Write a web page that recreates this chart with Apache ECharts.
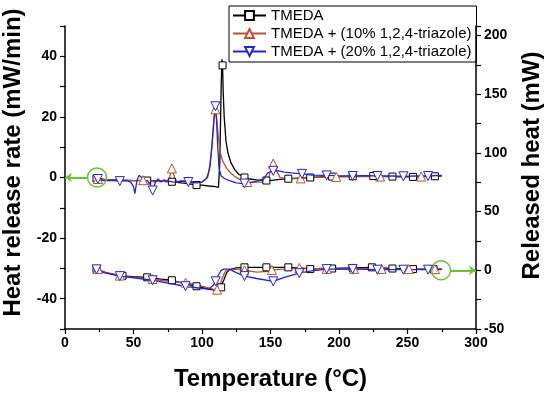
<!DOCTYPE html>
<html>
<head>
<meta charset="utf-8">
<script src="https://cdn.jsdelivr.net/npm/echarts@6/dist/echarts.min.js"></script>
<style>html,body{margin:0;padding:0;background:#fff}#c{width:550px;height:395px}</style>
</head>
<body>
<div id="c"></div>
<script>
// ---- data ----
var seriesNames = ['TMEDA', 'TMEDA + (10% 1,2,4-triazole)', 'TMEDA + (20% 1,2,4-triazole)'];
var xTicks = [0, 50, 100, 150, 200, 250, 300];

// Heat release rate (mW/min), left axis: [T, value]
var rateTMEDA = [[22,0],[23,-0.3],[30,-0.8],[40,-0.8],[50,-1],[60,-1],[70,-1.2],[78,-1.4],[85,-1.8],[90,-2],[96,-2.5],[100,-2.5],[105,-2.8],[110,-3],[112,-3.3],[113,5],[114,30],[114.6,39],[115,37],[115.5,28],[116.2,20],[117.5,12],[119,8],[121,5],[124,2.5],[127,1],[131,0],[135,-0.5],[140,-0.8],[147,-1],[152,-0.9],[157,-0.6],[163,-0.4],[170,-0.2],[179,0],[187,0.2],[195,0.3],[210,0.4],[225,0.5],[232,0.4],[239,0.3],[254,0.2],[262,0.3],[270,0.4],[275,0.5]];
var rate10 = [[22,0.5],[24,-0.5],[30,-0.8],[40,-1],[50,-1],[57,-0.9],[62,-0.8],[65,-1.5],[70,-1],[74,-1.5],[76,-0.5],[78,3],[80,0],[82,-1.5],[85,-1],[90,-1.2],[95,-1.5],[100,-1.5],[103,-0.5],[105,2],[107,9],[108.8,19],[109.8,22.5],[110.8,19],[112,13],[113.5,8],[115,5.5],[118,3],[121,1.5],[124,0.3],[128,-0.8],[133,-1.5],[140,-1.5],[145,-1.5],[148,-1],[150,2],[152,4.6],[154,2.5],[157,0],[162,-0.5],[172,-0.3],[180,0],[198,0.2],[215,0.3],[230,0.3],[245,0.3],[260,0.3],[275,0.5]];
var rate20 = [[22,1],[24,-0.5],[28,-1],[35,-1],[40,-1.2],[45,-1],[48,-1.5],[50,-3],[51,-5.3],[52.5,-1],[54,0.7],[56,0],[58,-1.5],[60,-1],[62,-2],[64,-4.3],[66,-1.5],[68,-0.5],[70,-1.5],[72,-0.8],[75,-1.2],[80,-1.5],[85,-1.2],[90,-1.5],[96,-1.8],[100,-1.5],[104,0],[106,4],[107.5,12],[109,21],[109.8,23.5],[110.5,20],[111.5,10],[112.5,3],[114,0.5],[117,-0.5],[120,-1],[125,-1.8],[131,-2],[135,-1.8],[140,-1.2],[145,-0.5],[148,1.5],[152,2.2],[155,2.3],[160,1.8],[165,1.5],[173,1.2],[180,0.8],[191,0.7],[200,0.6],[210,0.5],[220,0.6],[228,0.5],[240,0.5],[247,0.4],[255,0.5],[265,0.5],[275,0.7]];

// Released heat (mW), right axis: [T, value]
var heatTMEDA = [[22,1],[23,0.8],[30,-2],[40,-4.5],[42,-4.7],[50,-5.5],[60,-6],[70,-7.5],[78,-8.5],[88,-11.5],[96,-13.6],[105,-16],[110,-17],[112,-18],[113,-16],[114,-14.5],[116,-8],[118,-2],[120,0.5],[125,2],[131,2.5],[140,2.5],[147,2.5],[155,2.5],[163,2.5],[170,2],[179,1],[187,1.5],[195,1.5],[210,2],[224,2.5],[239,1.5],[254,1],[269,1],[275,1]];
var heat10 = [[22,1.5],[24,1],[30,-2],[40,-4.5],[50,-6],[60,-7],[64,-7.5],[70,-8.5],[80,-10],[88,-10.5],[100,-13.5],[108,-16],[111,-16.5],[113,-13],[115,-6],[117,-1],[120,0.5],[125,1],[131,0],[140,-1.5],[148,-1],[151,0.3],[160,1],[171,2],[180,1.5],[191,1.2],[200,1],[211,1.2],[220,1.5],[231,1.2],[240,1],[251,1],[260,1],[270,1],[275,1]];
var heat20 = [[22,1],[23,0.8],[25,-1],[30,-2.5],[40,-5],[50,-6.5],[64,-8.5],[75,-11],[88,-13.6],[100,-15.5],[105,-16],[108,-13],[110,-9.4],[112,-4],[114,0],[116,1],[120,1],[125,-2],[131,-5],[140,-7],[152,-9.4],[160,-6],[171,-2.5],[180,-0.5],[191,1],[200,1],[210,1],[228,0.5],[247,0.5],[265,0.5],[275,0.5]];

// marker points
var rateTMEDAMarks = [[23,-0.3],[60,-1],[78,-1.4],[96,-2.5],[115,37],[131,0],[147,-1],[163,-0.4],[179,0],[195,0.3],[210,0.4],[225,0.5],[239,0.3],[254,0.2],[270,0.4]];
var rate10Marks = [[24,-0.5],[57,-0.9],[78,3],[109.8,22.5],[133,-1.5],[152,4.6],[172,-0.3],[198,0.2],[230,0.3],[260,0.3]];
var rate20Marks = [[24,-0.5],[40,-1.2],[64,-4.3],[90,-1.5],[109.8,23.5],[131,-2],[152,2.2],[173,1.2],[191,0.7],[210,0.5],[228,0.5],[247,0.4],[265,0.5]];
var heatTMEDAMarks = [[23,0.8],[42,-4.7],[60,-6],[78,-8.5],[96,-13.6],[114,-14.5],[131,2.5],[147,2.5],[163,2.5],[179,1],[195,1.5],[210,2],[224,2.5],[239,1.5],[254,1],[269,1]];
var heat10Marks = [[24,1],[40,-4.5],[64,-7.5],[88,-10.5],[111,-16.5],[131,0],[151,0.3],[171,2],[191,1.2],[211,1.2],[231,1.2],[251,1],[270,1]];
var heat20Marks = [[23,0.8],[40,-5],[64,-8.5],[88,-13.6],[110,-9.4],[131,-5],[152,-9.4],[171,-2.5],[191,1],[210,1],[228,0.5],[247,0.5],[265,0.5]];

// annotation anchors (data coords)
var leftCircle = [23.4, 0];
var leftArrow = [[16.8, 0], [0, 0]];
var rightCircle = [274.5, 0];
var rightArrow = [[281, 0], [300, 0]];

// ---- styles ----
var colors = ['#000000', '#b8532e', '#2424d8'];
var symbols = ['rect', 'triangle', 'triangle'];
var symRot = [0, 0, 180];
var symSize = [7, 9, 9];
var green = '#6cc232';
var FONT = 'Liberation Sans, Arial, sans-serif';

var chart = echarts.init(document.getElementById('c'), null, {renderer: 'canvas'});

function lineSeries(i, data, axis) {
  return {
    type: 'line', name: seriesNames[i], yAxisIndex: axis, data: data,
    symbol: symbols[i], symbolRotate: symRot[i], symbolSize: symSize[i], showSymbol: false,
    lineStyle: {color: colors[i], width: 1.3},
    itemStyle: {color: '#fff', borderColor: colors[i], borderWidth: 1},
    animation: false, z: 2 + i
  };
}
function markSeries(i, data, axis) {
  return {
    type: 'scatter', name: seriesNames[i], yAxisIndex: axis, data: data,
    symbol: symbols[i], symbolRotate: symRot[i], symbolSize: symSize[i],
    itemStyle: {color: '#fff', borderColor: colors[i], borderWidth: 1, opacity: 1},
    animation: false, z: 3 + i
  };
}

var series = [
  lineSeries(0, rateTMEDA, 0), lineSeries(1, rate10, 0), lineSeries(2, rate20, 0),
  lineSeries(0, heatTMEDA, 1), lineSeries(1, heat10, 1), lineSeries(2, heat20, 1),
  markSeries(0, rateTMEDAMarks, 0), markSeries(1, rate10Marks, 0), markSeries(2, rate20Marks, 0),
  markSeries(0, heatTMEDAMarks, 1), markSeries(1, heat10Marks, 1), markSeries(2, heat20Marks, 1),
  {
    type: 'line', name: 'annotLeft', yAxisIndex: 0, data: [], animation: false, z: 10,
    markPoint: {
      symbol: 'circle', symbolSize: 19, animation: false, label: {show: false},
      itemStyle: {color: 'rgba(0,0,0,0)', borderColor: green, borderWidth: 1.5},
      data: [{coord: leftCircle}]
    },
    markLine: {
      symbol: ['none', 'arrow'], symbolSize: 7, animation: false, silent: true, label: {show: false},
      lineStyle: {color: green, width: 2, type: 'solid'},
      data: [[{coord: leftArrow[0]}, {coord: leftArrow[1]}]]
    }
  },
  {
    type: 'line', name: 'annotRight', yAxisIndex: 1, data: [], animation: false, z: 10,
    markPoint: {
      symbol: 'circle', symbolSize: 19, animation: false, label: {show: false},
      itemStyle: {color: 'rgba(0,0,0,0)', borderColor: green, borderWidth: 1.5},
      data: [{coord: rightCircle}]
    },
    markLine: {
      symbol: ['none', 'arrow'], symbolSize: 7, animation: false, silent: true, label: {show: false},
      lineStyle: {color: green, width: 2, type: 'solid'},
      data: [[{coord: rightArrow[0]}, {coord: rightArrow[1]}]]
    }
  }
];

var axisLabelStyle = {color: '#000', fontFamily: FONT, fontWeight: 'bold', fontSize: 14};

chart.setOption({
  backgroundColor: '#fff',
  animation: false,
  grid: {left: 65, right: 74, top: 26, bottom: 66, containLabel: false, outerBoundsMode: 'none'},
  legend: {
    data: seriesNames, orient: 'vertical', left: 229, top: 6,
    itemWidth: 33, itemHeight: 11, itemGap: 3,
    padding: [2, 5, 3, 3], borderColor: '#000', borderWidth: 1,
    textStyle: {color: '#000', fontFamily: FONT, fontSize: 15}
  },
  xAxis: {
    type: 'value', min: xTicks[0], max: xTicks[xTicks.length - 1], interval: 50,
    name: 'Temperature (°C)', nameLocation: 'middle', nameGap: 38,
    nameTextStyle: {color: '#000', fontFamily: FONT, fontWeight: 'bold', fontSize: 24},
    axisLine: {show: true, onZero: false, lineStyle: {color: '#000', width: 1.5}},
    axisTick: {show: true, length: 5, lineStyle: {color: '#000', width: 1.2}},
    minorTick: {show: true, splitNumber: 2, length: 3, lineStyle: {color: '#000', width: 1.2}},
    axisLabel: Object.assign({margin: 7}, axisLabelStyle),
    splitLine: {show: false}
  },
  yAxis: [
    {
      type: 'value', position: 'left', min: -50, max: 50, interval: 10,
      name: 'Heat release rate (mW/min)', nameLocation: 'middle', nameGap: 36,
      nameTextStyle: {color: '#000', fontFamily: FONT, fontWeight: 'bold', fontSize: 24, padding: [0, 0, 0, 30]},
      axisLine: {show: true, onZero: false, lineStyle: {color: '#000', width: 1.5}},
      axisTick: {show: true, length: 5, lineStyle: {color: '#000', width: 1.2}},
      axisLabel: Object.assign({margin: 8, formatter: function (v) { return v % 20 === 0 ? String(v) : ''; }}, axisLabelStyle),
      splitLine: {show: false}
    },
    {
      type: 'value', position: 'right', min: -50, max: 208, interval: 50,
      name: 'Released heat (mW)', nameLocation: 'middle', nameGap: 44,
      nameTextStyle: {color: '#000', fontFamily: FONT, fontWeight: 'bold', fontSize: 24, padding: [0, 0, 0, 24]},
      axisLine: {show: true, onZero: false, lineStyle: {color: '#000', width: 1.5}},
      axisTick: {show: true, length: 5, lineStyle: {color: '#000', width: 1.2}},
      minorTick: {show: true, splitNumber: 2, length: 5, lineStyle: {color: '#000', width: 1.2}},
      axisLabel: Object.assign({margin: 8, formatter: function (v) { return v % 50 === 0 ? String(v) : ''; }}, axisLabelStyle),
      splitLine: {show: false}
    }
  ],
  series: series
});
</script>
</body>
</html>
